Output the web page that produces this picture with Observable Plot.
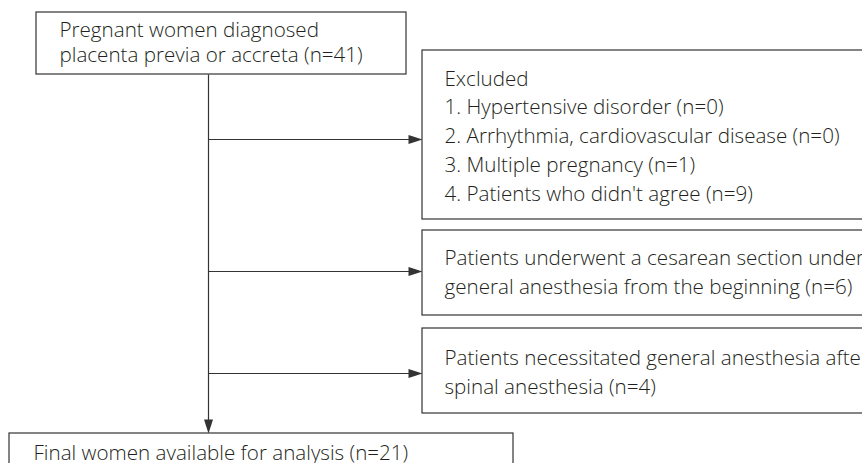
<!DOCTYPE html>
<html>
<head>
<meta charset="utf-8">
<script src="https://cdn.jsdelivr.net/npm/d3@7"></script>
<script src="https://cdn.jsdelivr.net/npm/@observablehq/plot@0.6"></script>
<style>
  html, body { margin: 0; padding: 0; background: #fff; overflow: hidden; }
  #chart svg { overflow: hidden; }
</style>
</head>
<body>
<div id="chart"></div>
<script>
// ---- content ----
const topBoxLines = ["Pregnant women diagnosed", "placenta previa or accreta (n=41)"];
const excludedLines = [
  "Excluded",
  "1. Hypertensive disorder (n=0)",
  "2. Arrhythmia, cardiovascular disease (n=0)",
  "3. Multiple pregnancy (n=1)",
  "4. Patients who didn't agree (n=9)"
];
const generalLines = [
  "Patients underwent a cesarean section under",
  "general anesthesia from the beginning (n=6)"
];
const spinalLines = [
  "Patients necessitated general anesthesia after",
  "spinal anesthesia (n=4)"
];
const finalLines = ["Final women available for analysis (n=21)"];

// ---- layout (diagram geometry) ----
const boxes = [
  {x1: 36, x2: 406, y1: 12, y2: 74, tx: 59, ty: 29.5, dy: 25, lines: topBoxLines},
  {x1: 422, x2: 900, y1: 50, y2: 219, tx: 444, ty: 78.5, dy: 28.8, lines: excludedLines},
  {x1: 422, x2: 900, y1: 230, y2: 315, tx: 444, ty: 257.5, dy: 29, lines: generalLines},
  {x1: 422, x2: 900, y1: 328, y2: 413, tx: 444, ty: 357.5, dy: 29, lines: spinalLines},
  {x1: 9, x2: 513, y1: 433, y2: 500, tx: 33, ty: 452.5, dy: 29, lines: finalLines}
];
const arrows = [
  {x1: 208, y1: 74, x2: 208, y2: 433, dir: "down"},
  {x1: 208, y1: 139, x2: 422, y2: 139, dir: "right"},
  {x1: 208, y1: 271, x2: 422, y2: 271, dir: "right"},
  {x1: 208, y1: 373, x2: 422, y2: 373, dir: "right"}
];

const textRows = boxes.flatMap(b => b.lines.map((t, i) => ({x: b.tx, y: b.ty + i * b.dy, text: t})));

// filled arrowhead, tip at origin, pointing right
const head = {
  draw(context) {
    context.moveTo(0, 0);
    context.lineTo(-14, -4.5);
    context.lineTo(-14, 4.5);
    context.closePath();
  }
};

const ink = "#333";

const chart = Plot.plot({
  width: 862,
  height: 463,
  margin: 0,
  x: {domain: [0, 862], axis: null},
  y: {domain: [0, 463], reverse: true, axis: null},
  style: {fontFamily: "'Open Sans', sans-serif", background: "#fff"},
  marks: [
    Plot.link(arrows, {x1: "x1", y1: "y1", x2: d => d.dir === "right" ? d.x2 - 8 : d.x2, y2: d => d.dir === "down" ? d.y2 - 8 : d.y2, stroke: ink, strokeWidth: 1.2}),
    Plot.dot(arrows, {x: "x2", y: "y2", symbol: head, fill: ink, stroke: "none", r: 5, rotate: d => d.dir === "down" ? 90 : 0}),
    Plot.rect(boxes, {x1: "x1", x2: "x2", y1: "y1", y2: "y2", fill: "#fff", stroke: ink, strokeWidth: 1.2}),
    Plot.text(textRows, {x: "x", y: "y", text: "text", textAnchor: "start", lineAnchor: "middle", fontSize: 20.6, fill: "#231f20", fontWeight: 300})
  ]
});
document.getElementById("chart").appendChild(chart);
</script>
</body>
</html>
